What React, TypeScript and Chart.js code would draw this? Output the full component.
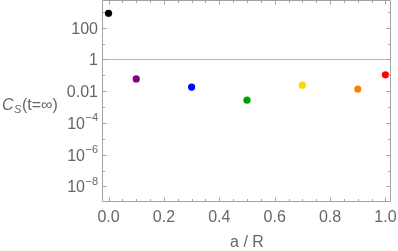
import { useEffect, useRef } from "react";
import { Chart, registerables } from "chart.js";

Chart.register(...registerables);

const xValues = [0, 0.1, 0.3, 0.5, 0.7, 0.9, 1.0];
const csValues = [805, 0.059, 0.0179, 0.0027, 0.0238, 0.0134, 0.106];
const pointColors = ["#000000", "#800080", "#0000ff", "#00a000", "#ffd700", "#ff8000", "#ff0000"];

const xTickValues = [0, 0.2, 0.4, 0.6, 0.8, 1.0];
const xTickLabels = ["0.0", "0.2", "0.4", "0.6", "0.8", "1.0"];
const xMinorTickValues = [0.05, 0.1, 0.15, 0.25, 0.3, 0.35, 0.45, 0.5, 0.55, 0.65, 0.7, 0.75, 0.85, 0.9, 0.95];

const yTickValues = [1e2, 1, 1e-2, 1e-4, 1e-6, 1e-8];
const yTickBases = ["100", "1", "0.01", "10", "10", "10"];
const yTickExps = ["", "", "", "−4", "−6", "−8"];
const yMinorTickValues = [1e3, 10, 0.1, 1e-3, 1e-5, 1e-7];

const referenceLevel = 1;

const xTitle = "a / R";
const yTitleMain = "C";
const yTitleSub = "S";
const yTitleRest = "(t=∞)";

const FONT = "'Liberation Sans', Arial, sans-serif";
const TEXT_COLOR = "#666666";
const FRAME_COLOR = "#a3a3a3";

const framePlugin = {
  id: "framePlugin",
  beforeDatasetsDraw(chart: any) {
    const { ctx, chartArea } = chart;
    const y = chart.scales.y;
    const yp = Math.round(y.getPixelForValue(referenceLevel)) + 0.5;
    ctx.save();
    ctx.strokeStyle = "#b5b5b5";
    ctx.lineWidth = 1;
    ctx.beginPath();
    ctx.moveTo(chartArea.left, yp);
    ctx.lineTo(chartArea.right, yp);
    ctx.stroke();
    ctx.restore();
  },
  afterDraw(chart: any) {
    const { ctx, chartArea } = chart;
    const xs = chart.scales.x;
    const ys = chart.scales.y;
    const L = chartArea.left - 0.5;
    const R = chartArea.right - 0.5;
    const T = chartArea.top + 0.5;
    const B = chartArea.bottom + 0.5;
    ctx.save();
    ctx.strokeStyle = FRAME_COLOR;
    ctx.lineWidth = 1;
    ctx.beginPath();
    ctx.moveTo(L, T);
    ctx.lineTo(R, T);
    ctx.lineTo(R, B);
    ctx.lineTo(L, B);
    ctx.closePath();
    ctx.stroke();

    const major = 4;
    const minor = 2.5;
    ctx.beginPath();
    const xt = (v: number, len: number) => {
      const px = Math.round(xs.getPixelForValue(v)) + 0.5;
      ctx.moveTo(px, B);
      ctx.lineTo(px, B - len);
      ctx.moveTo(px, T);
      ctx.lineTo(px, T + len);
    };
    const yt = (v: number, len: number) => {
      const py = Math.round(ys.getPixelForValue(v)) + 0.5;
      ctx.moveTo(L, py);
      ctx.lineTo(L + len, py);
      ctx.moveTo(R, py);
      ctx.lineTo(R - len, py);
    };
    xTickValues.forEach((v) => xt(v, major));
    xMinorTickValues.forEach((v) => xt(v, minor));
    yTickValues.forEach((v) => yt(v, major));
    yMinorTickValues.forEach((v) => yt(v, minor));
    ctx.stroke();

    ctx.fillStyle = TEXT_COLOR;
    ctx.textBaseline = "alphabetic";
    ctx.font = `16px ${FONT}`;
    ctx.textAlign = "center";
    xTickValues.forEach((v, i) => {
      ctx.fillText(xTickLabels[i], xs.getPixelForValue(v), 221.5);
    });
    const rightEdge = chartArea.left - 5;
    yTickValues.forEach((v, i) => {
      const py = ys.getPixelForValue(v);
      const base = yTickBases[i];
      const exp = yTickExps[i];
      ctx.textAlign = "left";
      ctx.font = `11px ${FONT}`;
      const ew = exp ? ctx.measureText(exp).width + 0.5 : 0;
      ctx.font = `16px ${FONT}`;
      const bw = ctx.measureText(base).width;
      const x0 = rightEdge - ew - bw;
      ctx.fillText(base, x0, py + 6);
      if (exp) {
        ctx.font = `11px ${FONT}`;
        ctx.fillText(exp, x0 + bw + 0.5, py - 1.5);
      }
    });
    ctx.font = `16px ${FONT}`;
    ctx.textAlign = "center";
    ctx.fillText(xTitle, (chartArea.left + chartArea.right) / 2, 247);
    ctx.textAlign = "left";
    let tx = 2;
    const ty = 110;
    ctx.font = `italic 16px ${FONT}`;
    ctx.fillText(yTitleMain, tx, ty);
    tx += ctx.measureText(yTitleMain).width + 0.5;
    ctx.font = `italic 11px ${FONT}`;
    ctx.fillText(yTitleSub, tx, ty + 3);
    tx += ctx.measureText(yTitleSub).width + 0.5;
    ctx.font = `16px ${FONT}`;
    ctx.fillText(yTitleRest, tx, ty);
    ctx.restore();
  },
};

export default function App() {
  const ref = useRef<HTMLCanvasElement | null>(null);
  useEffect(() => {
    if (!ref.current) return;
    const chart = new Chart(ref.current, {
      type: "scatter",
      data: {
        datasets: [
          {
            data: xValues.map((x, i) => ({ x, y: csValues[i] })),
            pointBackgroundColor: pointColors,
            pointBorderWidth: 0,
            pointRadius: 3.6,
            pointHoverRadius: 3.6,
          },
        ],
      },
      options: {
        animation: false,
        responsive: false,
        events: [],
        layout: { autoPadding: false, padding: { left: 0, right: 7, top: 0, bottom: 0 } },
        plugins: { legend: { display: false }, tooltip: { enabled: false } },
        scales: {
          x: {
            type: "linear",
            min: -0.02,
            max: 1.02,
            grid: { display: false, drawTicks: false },
            border: { display: false },
            ticks: { display: false },
            afterFit: (s: any) => {
              s.height = 50;
            },
          },
          y: {
            type: "logarithmic",
            min: 1.2e-9,
            max: 5500,
            grid: { display: false, drawTicks: false },
            border: { display: false },
            ticks: { display: false },
            afterFit: (s: any) => {
              s.width = 103;
            },
          },
        },
      },
      plugins: [framePlugin],
    });
    return () => chart.destroy();
  }, []);
  return (
    <div style={{ position: "absolute", left: 0, top: 0, width: 398, height: 251, background: "#fff" }}>
      <canvas ref={ref} width={398} height={251} />
    </div>
  );
}
